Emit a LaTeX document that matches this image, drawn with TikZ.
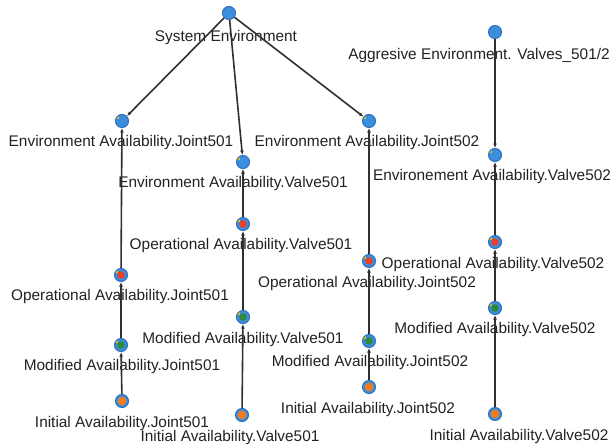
\documentclass[tikz,border=0pt]{standalone}
\usepackage{fontspec}
\setmainfont{Liberation Sans}
\usetikzlibrary{arrows.meta}
\definecolor{nodeblue}{HTML}{3B8EDB}
\definecolor{ringblue}{HTML}{2F6FC0}
\definecolor{dotred}{HTML}{E8402A}
\definecolor{dotgreen}{HTML}{2E8A3A}
\definecolor{dotorange}{HTML}{F07C22}
\definecolor{edgegray}{HTML}{303030}
\definecolor{markyellow}{HTML}{E0BE20}
\definecolor{labtext}{HTML}{222222}
\tikzset{
  vbase/.style={circle, minimum size=13pt, inner sep=0pt, fill=nodeblue, draw=ringblue, line width=1pt},
  rootnode/.style={vbase},
  envnode/.style={vbase, path picture={\fill[markyellow] ([shift={(-6.5pt,2.5pt)}]path picture bounding box.center) rectangle +(3pt,3pt);}},
  opnode/.style={vbase, path picture={\fill[markyellow] ([shift={(-6.5pt,2.5pt)}]path picture bounding box.center) rectangle +(3pt,3pt);
      \fill[dotred] (path picture bounding box.center) circle (3.8pt);}},
  modnode/.style={vbase, path picture={\fill[markyellow] ([shift={(-6.5pt,2.5pt)}]path picture bounding box.center) rectangle +(3pt,3pt);
      \fill[dotgreen] (path picture bounding box.center) circle (3.8pt);}},
  ininode/.style={vbase, path picture={\fill[dotorange] (path picture bounding box.center) circle (4.4pt);}},
  lab/.style={font=\fontsize{15.4}{18}\selectfont, text=labtext, inner sep=0pt},
  edge/.style={draw=edgegray, line width=1.6pt, -{Latex[length=4.5pt,width=3.8pt]}},
}
\begin{document}
\begin{tikzpicture}[x=1pt,y=-1pt]
\useasboundingbox (0,0) rectangle (613,447);
\fill[white] (0,0) rectangle (613,447);
% labels
\node[lab] (lS) at (226,38) {System Environment};
\node[lab] (lA) at (479,56) {Aggresive Environment. Valves\_501/2};
\node[lab] (lEJ501) at (121,143) {Environment Availability.Joint501};
\node[lab] (lEV501) at (233,184) {Environment Availability.Valve501};
\node[lab] (lEJ502) at (367,143) {Environment Availability.Joint502};
\node[lab] (lEV502) at (492,177) {Environement Availability.Valve502};
\node[lab] (lOJ501) at (120,297) {Operational Availability.Joint501};
\node[lab] (lOV501) at (241,246) {Operational Availability.Valve501};
\node[lab] (lOJ502) at (367,284) {Operational Availability.Joint502};
\node[lab] (lOV502) at (493,265) {Operational Availability.Valve502};
\node[lab] (lMJ501) at (122,367) {Modified Availability.Joint501};
\node[lab] (lMV501) at (243,340) {Modified Availability.Valve501};
\node[lab] (lMJ502) at (370,363) {Modified Availability.Joint502};
\node[lab] (lMV502) at (495,330) {Modified Availability.Valve502};
\node[lab] (lIJ501) at (122,424) {Initial Availability.Joint501};
\node[lab] (lIV501) at (230,438) {Initial Availability.Valve501};
\node[lab] (lIJ502) at (368,410) {Initial Availability.Joint502};
\node[lab] (lIV502) at (519,437) {Initial Availability.Valve502};
% nodes
\node[rootnode] (S) at (229,13) {};
\node[rootnode] (A) at (495,32) {};
\node[envnode] (EJ501) at (122,121) {};
\node[envnode] (EV501) at (243,162) {};
\node[envnode] (EJ502) at (369,121) {};
\node[envnode] (EV502) at (495,155) {};
\node[opnode] (OJ501) at (121,275) {};
\node[opnode] (OV501) at (243,224) {};
\node[opnode] (OJ502) at (369,261) {};
\node[opnode] (OV502) at (495,242) {};
\node[modnode] (MJ501) at (121,345) {};
\node[modnode] (MV501) at (243,317) {};
\node[modnode] (MJ502) at (369,341) {};
\node[modnode] (MV502) at (495,308) {};
\node[ininode] (IJ501) at (122,401) {};
\node[ininode] (IV501) at (242,415) {};
\node[ininode] (IJ502) at (369,387) {};
\node[ininode] (IV502) at (495,414) {};
% edges
\draw[edge] (S) -- (EJ501);
\draw[edge] (S) -- (EV501);
\draw[edge] (S) -- (EJ502);
\draw[edge] (A) -- (EV502);
\draw[edge] (IJ501) -- (MJ501);
\draw[edge] (MJ501) -- (OJ501);
\draw[edge] (OJ501) -- (EJ501);
\draw[edge] (IV501) -- (MV501);
\draw[edge] (MV501) -- (OV501);
\draw[edge] (OV501) -- (EV501);
\draw[edge] (IJ502) -- (MJ502);
\draw[edge] (MJ502) -- (OJ502);
\draw[edge] (OJ502) -- (EJ502);
\draw[edge] (IV502) -- (MV502);
\draw[edge] (MV502) -- (OV502);
\draw[edge] (OV502) -- (EV502);
\end{tikzpicture}
\end{document}
